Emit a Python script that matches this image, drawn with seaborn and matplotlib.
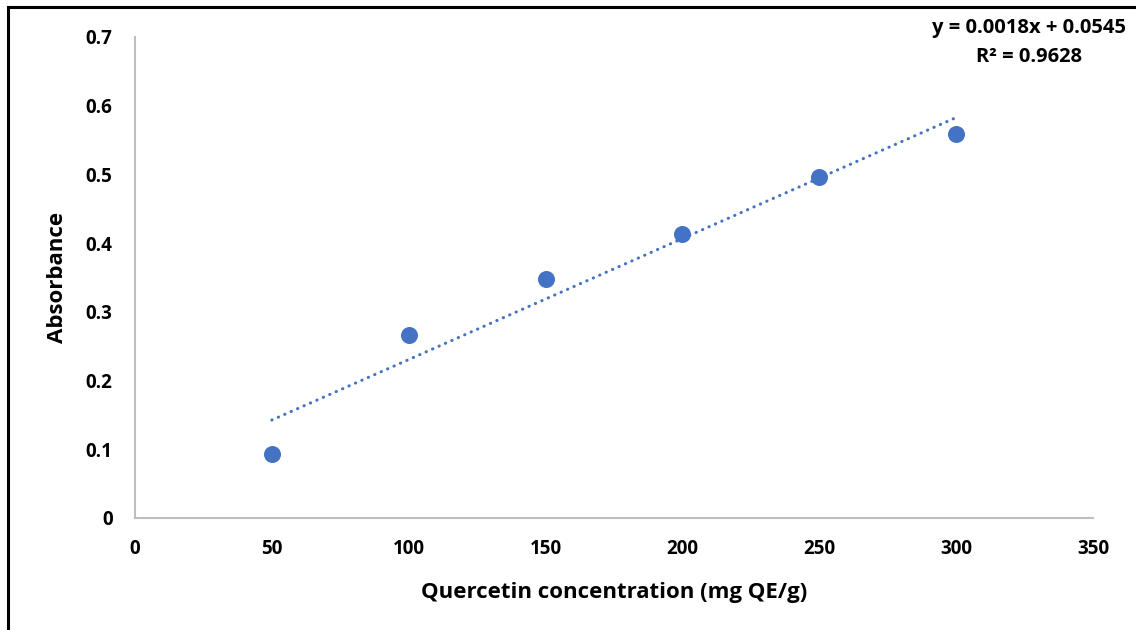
import numpy as np
import pandas as pd
import matplotlib
matplotlib.use("Agg")
import matplotlib.pyplot as plt
import seaborn as sns
from matplotlib.patches import Rectangle

concentration = [50, 100, 150, 200, 250, 300]
absorbance = [0.093, 0.267, 0.348, 0.413, 0.496, 0.559]
x_ticks = [0, 50, 100, 150, 200, 250, 300, 350]
y_ticks = [0, 0.1, 0.2, 0.3, 0.4, 0.5, 0.6, 0.7]
y_tick_labels = ["0", "0.1", "0.2", "0.3", "0.4", "0.5", "0.6", "0.7"]
equation_text = "y = 0.0018x + 0.0545"
r2_text = "R² = 0.9628"

sns.set_style("white")
plt.rcParams['font.family'] = ['Open Sans', 'DejaVu Sans']
plt.rcParams['font.weight'] = 'bold'
plt.rcParams['text.color'] = 'black'
plt.rcParams['axes.labelcolor'] = 'black'
plt.rcParams['xtick.color'] = 'black'
plt.rcParams['ytick.color'] = 'black'

df = pd.DataFrame({"x": concentration, "y": absorbance})
color = "#4472C4"

fig = plt.figure(figsize=(11.36, 6.3), dpi=100)
ax = fig.add_axes([0.1188, 0.1778, 0.9622 - 0.1188, 0.9413 - 0.1778])

sns.regplot(data=df, x="x", y="y", ax=ax, ci=None, scatter=False,
            line_kws=dict(color=color, lw=2.2, linestyle=(0, (0.1, 2.2)),
                          dash_capstyle='round', solid_capstyle='round'))
sns.scatterplot(data=df, x="x", y="y", ax=ax, s=150, color=color,
                edgecolor=color, linewidth=0, zorder=5)

ax.set_xlim(0, 350)
ax.set_ylim(0, 0.7)
ax.set_xticks(x_ticks)
ax.set_yticks(y_ticks)
ax.set_yticklabels(y_tick_labels)
ax.tick_params(axis='both', length=0, labelsize=13.5, labelcolor='black')
for lbl in ax.get_xticklabels() + ax.get_yticklabels():
    lbl.set_fontweight('bold')
ax.xaxis.set_tick_params(pad=15)
ax.yaxis.set_tick_params(pad=16)

ax.set_xlabel("Quercetin concentration (mg QE/g)", fontsize=16, fontweight='bold',
              labelpad=17, color='black')
ax.set_ylabel("Absorbance", fontsize=16, fontweight='bold', labelpad=13, color='black')

for side in ['top', 'right']:
    ax.spines[side].set_visible(False)
for side in ['left', 'bottom']:
    ax.spines[side].set_color('#BFBFBF')
    ax.spines[side].set_linewidth(1.5)

fig.text(1029 / 1136, 1 - 28 / 630, equation_text, ha='center', va='center',
         fontsize=14.5, fontweight='bold', color='black')
fig.text(1029 / 1136, 1 - 57 / 630, r2_text, ha='center', va='center',
         fontsize=14.5, fontweight='bold', color='black')

fig.patches.append(Rectangle((8 / 1136, -0.1), 1.2, 1.1 - 7 / 630,
                             transform=fig.transFigure, fill=False,
                             edgecolor='black', linewidth=2.2, zorder=10))

fig.savefig("out.png", dpi=100)
